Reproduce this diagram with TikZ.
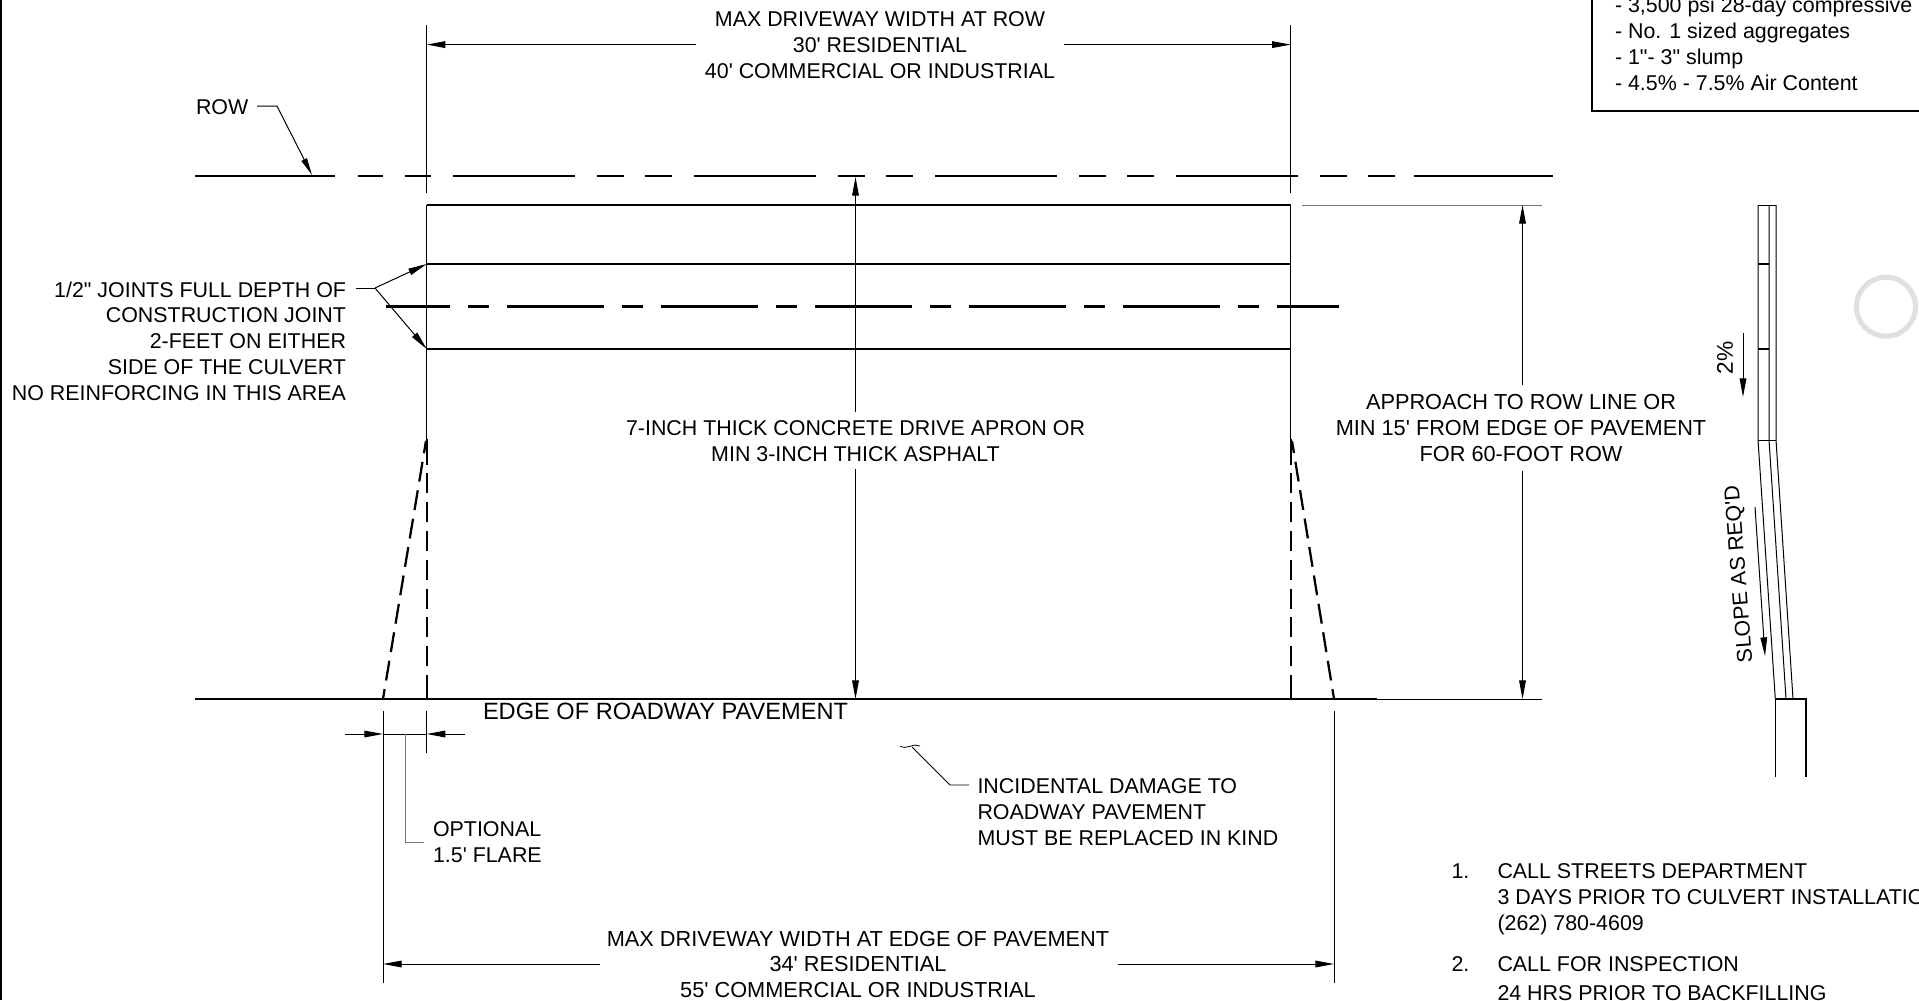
\documentclass[tikz,border=0pt]{standalone}
\usepackage{fontspec}
\setmainfont{Liberation Sans}[Ligatures=TeXOff]
\usetikzlibrary{arrows.meta}

\begin{document}
\begin{tikzpicture}[x=0.75pt, y=-0.75pt, >={Stealth[length=14pt,width=5pt,inset=0pt]},
    line width=0.75pt,
    heavy/.style={line width=1.7pt},
    label/.style={font=\fontsize{16.05}{19.3}\selectfont, inner sep=0pt, outer sep=0pt},
    widelabel/.style={font=\fontsize{16.3}{19.3}\selectfont},
    ctrtext/.style={label, align=center, anchor=base},
    lefttext/.style={label, align=left, anchor=base west},
    righttext/.style={label, align=right, anchor=base east},
    rowdash/.style={heavy, dash pattern=on 91.5pt off 16.5pt on 20.25pt off 15.75pt on 20.25pt off 16.5pt},
    jointdash/.style={heavy, dash pattern=on 72.75pt off 13.5pt on 15.75pt off 13.5pt, dash phase=24.75pt},
    flaredash/.style={heavy, dash pattern=on 15pt off 6.6pt},
    lightline/.style={color=black!55}]
  \useasboundingbox (0,0) rectangle (1919,1000);
  \fill[white] (0,0) rectangle (1919,1000);

  % sheet edge on the left
  \draw[line width=2.2pt] (1,0) -- (1,1000);

  % key points of the apron
  \coordinate (topL) at (426.7,205);
  \coordinate (topR) at (1290.7,205);
  \coordinate (jointAL) at (426.7,264);
  \coordinate (jointAR) at (1290.7,264);
  \coordinate (jointBL) at (426.7,349);
  \coordinate (jointBR) at (1290.7,349);
  \coordinate (flareL) at (383,699);
  \coordinate (flareR) at (1334,699);

  % ROW line
  \draw[heavy] (195,176) -- (335,176);
  \draw[rowdash] (453,176) -- (1414,176);
  \draw[heavy] (358,176) -- (383,176) (405,176) -- (431,176) (1414,176) -- (1553,176);

  % slab lines
  \draw[heavy] (topL) -- (topR);
  \draw[heavy] (jointAL) -- (jointAR);
  \draw[heavy] (jointBL) -- (jointBR);
  \draw[jointdash] (386,306.5) -- (1339,306.5);

  % pavement edge
  \draw[heavy] (195,699) -- (1377,699);
  \draw[line width=2.2pt] (340,699) -- (flareL) (flareR) -- (1377,699);
  \draw (1377,699) -- (1542,699);

  % thin sides and their dashed ends
  \draw (426.7,25) -- (426.7,193) (topL) -- (426.7,445);
  \draw (1290.7,25) -- (1290.7,193) (topR) -- (1290.7,445);
  \foreach \x in {426.7,1290.7} {
    \draw[flaredash, dash phase=18.6pt] (\x,699) -- (\x,439);
    \draw[heavy] (\x,699) -- (\x,695) (\x,464) -- (\x,439);
  }
  \draw[flaredash, dash phase=7.5pt] (flareL) -- (426,441);
  \draw[flaredash, dash phase=7.5pt] (flareR) -- (1292,441);

  % top dimension
  \node[ctrtext, outer xsep=6.5pt] (maxrow) at (880,78)
    {MAX DRIVEWAY WIDTH AT ROW\\30' RESIDENTIAL\\40' COMMERCIAL OR INDUSTRIAL};
  \coordinate (maxrowL) at (426.7,44.6);
  \coordinate (maxrowR) at (1290.7,44.6);
  \draw[->] (maxrow.west |- maxrowL) -- (maxrowL);
  \draw[->] (maxrow.east |- maxrowR) -- (maxrowR);

  % centre text and its arrows
  \node[ctrtext, outer ysep=6pt] (apron) at (855.5,461)
    {7-INCH THICK CONCRETE DRIVE APRON OR\\MIN 3-INCH THICK ASPHALT};
  \coordinate (apronT) at (855.5,177);
  \coordinate (apronB) at (855.5,699);
  \draw[->] (apron.north -| apronT) -- (apronT);
  \draw[->] (apron.south -| apronB) -- (apronB);

  % right dimension
  \node[ctrtext, widelabel, outer ysep=7pt] (approach) at (1521,461)
    {APPROACH TO ROW LINE OR\\MIN 15' FROM EDGE OF PAVEMENT\\FOR 60-FOOT ROW};
  \coordinate (approachT) at (1522.5,205);
  \coordinate (approachB) at (1522.5,699);
  \draw[lightline] (1302,205) -- (1542,205);
  \draw[->] (approach.north -| approachT) -- (approachT);
  \draw[->] (approach.south -| approachB) -- (approachB);

  % ROW leader
  \node[lefttext] (rowtext) at (196,114) {ROW};
  \coordinate (rowtip) at (312,175);
  \draw[->, >={Stealth[length=13pt,width=4.5pt,inset=0pt]}] (257,106) -- (277,106) -- (rowtip);

  % joint note
  \node[righttext] (jointtext) at (346,400)
    {1/2" JOINTS FULL DEPTH OF\\CONSTRUCTION JOINT\\2-FEET ON EITHER\\SIDE OF THE CULVERT\\NO REINFORCING IN THIS AREA};
  \coordinate (jointknee) at (375,288);
  \draw (355.7,288) -- (jointknee);
  \draw[->] (jointknee) -- (jointAL);
  \draw[->] (jointknee) -- (jointBL);

  % flare dimension
  \coordinate (flaredimL) at (383,734);
  \coordinate (flaredimR) at (426.7,734);
  \draw (383,711) -- (383,983);
  \draw (426.7,711) -- (426.7,753);
  \draw[->] (345,734) -- (flaredimL);
  \draw[->] (465,734) -- (flaredimR);
  \draw (flaredimL) -- (flaredimR);
  \draw[lightline] (405,734) -- (405,842) -- (424,842);
  \node[lefttext] (flaretext) at (433,862) {OPTIONAL\\1.5' FLARE};

  \node[lefttext, font=\fontsize{17.7}{19.3}\selectfont] (edgetext) at (483,719) {EDGE OF ROADWAY PAVEMENT};

  % incidental damage note
  \node[lefttext] (damage) at (977.5,845)
    {INCIDENTAL DAMAGE TO\\ROADWAY PAVEMENT\\MUST BE REPLACED IN KIND};
  \draw[line width=0.6pt] (900,746.5) .. controls (906,750) and (914,742.5) .. (920,746);
  \draw[line width=0.6pt] (912,747) -- (950,785) -- (969,785);

  % bottom dimension
  \node[ctrtext, widelabel] (maxedge) at (858,997.5)
    {MAX DRIVEWAY WIDTH AT EDGE OF PAVEMENT\\34' RESIDENTIAL\\55' COMMERCIAL OR INDUSTRIAL};
  \coordinate (maxedgeL) at (383,964);
  \coordinate (maxedgeR) at (1334,964);
  \draw (1334,711) -- (1334,983);
  \draw[->] ([xshift=-5.5pt]maxedge.west |- maxedgeL) -- (maxedgeL);
  \draw[->] ([xshift=6.5pt]maxedge.east |- maxedgeR) -- (maxedgeR);

  % concrete notes box
  \draw[line width=1.4pt] (1592,-5) -- (1592,110.7) -- (1925,110.7);
  \node[lefttext] (mixnotes) at (1615,90)
    {- 3,500 psi 28-day compressive\\- No. 1 sized aggregates\\- 1"- 3" slump\\- 4.5\% - 7.5\% Air Content};

  % section
  \draw (1758,205) -- (1758,440) -- (1775.3,699);
  \draw (1769,205) -- (1769,440) -- (1786,699);
  \draw (1776,205) -- (1776,440) -- (1793,699);
  \draw (1758,205) -- (1776,205);
  \draw (1758,440) -- (1776,440);
  \draw[heavy] (1758,264) -- (1769,264);
  \draw[heavy] (1758,349) -- (1769,349);
  \draw[line width=1.2pt] (1775.3,777) -- (1775.3,699) -- (1805.7,699) -- (1805.7,777);
  \node[label, rotate=90, font=\fontsize{17}{19.3}\selectfont] (grade) at (1725,358) {2\%};
  \draw[->] (1743,333) -- (1743,397);
  \node[label, rotate=94.4] (slope) at (1740,574) {SLOPE AS REQ'D};
  \draw[->] (1755,507) -- (1765,656);

  % numbered notes
  \node[lefttext] (numA) at (1451.5,878) {1.};
  \node[lefttext] (noteA) at (1497.5,930)
    {CALL STREETS DEPARTMENT\\3 DAYS PRIOR TO CULVERT INSTALLATION\\(262) 780-4609};
  \node[lefttext] (numB) at (1451.5,971) {2.};
  \node[lefttext] (noteB) at (1497.5,971) {CALL FOR INSPECTION};
  \node[lefttext] (noteC) at (1497.5,1000) {24 HRS PRIOR TO BACKFILLING};

  % ring at the right
  \draw[color=black!12, line width=3.8pt] (1886,306.7) circle (29.5);
\end{tikzpicture}
\end{document}
